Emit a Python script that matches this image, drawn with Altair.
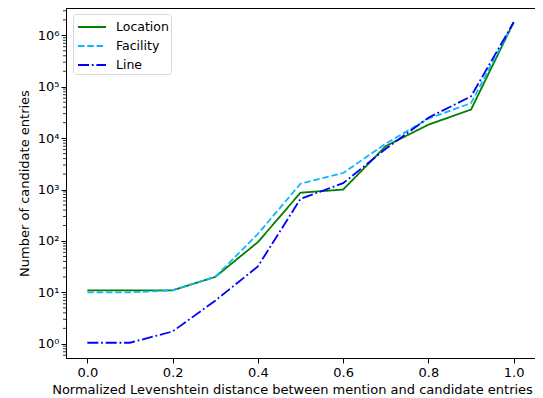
import altair as alt
import pandas as pd

distance = [0.0, 0.1, 0.2, 0.3, 0.4, 0.5, 0.6, 0.7, 0.8, 0.9, 1.0]
location = [11, 11, 11, 20, 95, 870, 1000, 7000, 18300, 36000, 1.8e6]
facility = [10, 10, 11, 20, 137, 1300, 2100, 7800, 24000, 48000, 1.8e6]
line = [1.05, 1.05, 1.74, 6.9, 32, 660, 1330, 6200, 25000, 65000, 1.8e6]

series_names = ["Location", "Facility", "Line"]
series_colors = ["green", "#10b4ff", "blue"]
series_dashes = [[1, 0], [6.5, 2.8], [11, 2.8, 1.8, 2.8]]

x_ticks = [0.0, 0.2, 0.4, 0.6, 0.8, 1.0]
y_major = [1, 10, 100, 1000, 10000, 100000, 1000000]
minor_mult = [2, 3, 4, 5, 6, 7, 8, 9]
minor_decades = [0.1, 1, 10, 100, 1000, 10000, 100000, 1000000]

y_domain = [0.53, 3.4e6]
x_domain = [-0.05, 1.05]

rows = []
for name, vals in zip(series_names, [location, facility, line]):
    for d, v in zip(distance, vals):
        rows.append({"distance": d, "count": v, "series": name})
df = pd.DataFrame(rows)

minor = [m * d for d in minor_decades for m in minor_mult if y_domain[0] <= m * d <= y_domain[1]]
minor_df = pd.DataFrame({"v": minor})

FONT = "DejaVu Sans"
FS = 13

yscale = alt.Scale(type="log", domain=y_domain, nice=False)

legend = alt.Legend(title=None, orient="none", legendX=7, legendY=6,
                    symbolType="M-0.8,0H2", symbolSize=400,
                    symbolStrokeWidth=1.8, labelFontSize=12.5,
                    labelFont=FONT, labelColor="black",
                    fillColor="white", strokeColor="#d8d8d8",
                    cornerRadius=3, padding=2, rowPadding=1,
                    labelOffset=19)

lines = alt.Chart(df).mark_line(strokeWidth=1.8, clip=True).encode(
    x=alt.X("distance:Q",
            scale=alt.Scale(domain=x_domain, nice=False, zero=False),
            axis=alt.Axis(values=x_ticks, format=".1f", grid=False, tickSize=5,
                          labelPadding=3, tickColor="black", domainColor="black",
                          labelColor="black", labelFontSize=FS, labelFont=FONT,
                          title="Normalized Levenshtein distance between mention and candidate entries",
                          titleFontSize=FS, titleFont=FONT, titleFontWeight="normal",
                          titleColor="black", titlePadding=4,
                          titleX=226, titleAnchor="middle", titleAlign="center")),
    y=alt.Y("count:Q", scale=yscale,
            axis=alt.Axis(values=y_major, grid=False, tickSize=5, labelPadding=2,
                          labelExpr="'10' + ['⁰','¹','²','³','⁴','⁵','⁶'][round(log(datum.value)/LN10)]",
                          tickColor="black", domainColor="black", labelColor="black",
                          labelFontSize=FS, labelFont=FONT,
                          title="Number of candidate entries", titleFontSize=FS,
                          titleFont=FONT, titleFontWeight="normal", titleColor="black",
                          titlePadding=6)),
    color=alt.Color("series:N",
                    scale=alt.Scale(domain=series_names, range=series_colors),
                    legend=legend),
    strokeDash=alt.StrokeDash("series:N",
                              scale=alt.Scale(domain=series_names, range=series_dashes),
                              legend=legend),
)

minor_ticks = alt.Chart(minor_df).mark_rule(color="black", strokeWidth=0.8, clip=False).encode(
    y=alt.Y("v:Q", scale=yscale),
    x=alt.value(-3),
    x2=alt.value(0),
)

chart = alt.layer(minor_ticks, lines).properties(
    width=469, height=350,
    background="white",
    autosize=alt.AutoSizeParams(type="none"),
    padding={"left": 58, "top": 0, "right": 0, "bottom": 40},
).configure_view(stroke="black", strokeWidth=1)

chart.save("out.html", embed_options={"renderer": "svg", "actions": False})
